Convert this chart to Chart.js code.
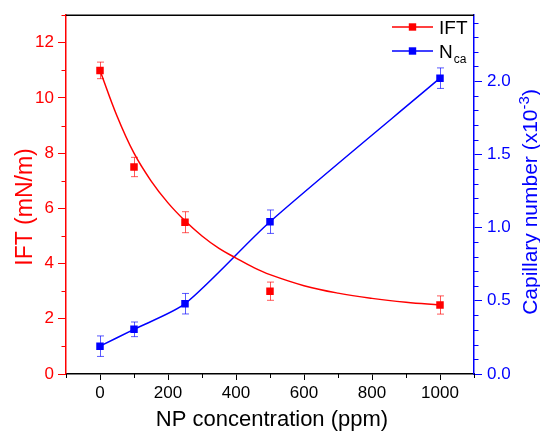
<!DOCTYPE html>
<html><head><meta charset="utf-8">
<script src="https://cdn.jsdelivr.net/npm/chart.js@4/dist/chart.umd.min.js"></script>
<style>html,body{margin:0;padding:0;background:#fff}#wrap{width:540px;height:431px;position:relative}</style>
</head><body><div id="wrap"><canvas id="c"></canvas></div>
<script>
// ---- data ----
const concentrations = [0, 100, 250, 500, 1000];
const iftValues = [11.0, 7.5, 5.5, 3.0, 2.5];
const iftErrors = [0.3, 0.35, 0.38, 0.33, 0.33];
const ncaValues = [0.19, 0.305, 0.48, 1.04, 2.02];
const ncaErrors = [0.07, 0.05, 0.07, 0.08, 0.07];
const iftFitX = [0, 50, 100, 150, 200, 250, 300, 350, 400, 450, 500, 600, 700, 800, 900, 1000];
const iftFitY = [11.0, 9.35, 8.0, 7.0, 6.2, 5.55, 5.0, 4.55, 4.2, 3.87, 3.6, 3.2, 2.93, 2.74, 2.6, 2.5];
const xTicks = [0, 200, 400, 600, 800, 1000];
const iftTicks = [0, 2, 4, 6, 8, 10, 12];
const ncaTicks = [0, 0.5, 1.0, 1.5, 2.0];
const xTitle = 'NP concentration (ppm)';
const leftTitle = 'IFT (mN/m)';
const rightTitleMain = 'Capillary number (x10';
const rightTitleSup = '-3';
const legendLabels = ['IFT', 'N', 'ca'];

const RED = '#ff0000', BLUE = '#0000ff';
const FONT = "'Liberation Sans', Arial, sans-serif";
Chart.defaults.font.family = FONT;

const pts = (xs, ys) => xs.map((x, i) => ({x: x, y: ys[i]}));

const errorBars = {
  id: 'errorBars',
  beforeDatasetsDraw(chart) {
    const ctx = chart.ctx, xs = chart.scales.x;
    const sets = [
      {sc: chart.scales.y, v: iftValues, e: iftErrors, c: 'rgba(255,0,0,0.65)'},
      {sc: chart.scales.y1, v: ncaValues, e: ncaErrors, c: 'rgba(0,0,255,0.65)'}
    ];
    ctx.save();
    ctx.lineWidth = 1;
    sets.forEach(s => {
      ctx.strokeStyle = s.c;
      concentrations.forEach((xv, i) => {
        const px = Math.round(xs.getPixelForValue(xv)) + 0.5;
        const t = s.sc.getPixelForValue(s.v[i] + s.e[i]);
        const b = s.sc.getPixelForValue(s.v[i] - s.e[i]);
        ctx.beginPath();
        ctx.moveTo(px, t); ctx.lineTo(px, b);
        ctx.moveTo(px - 3.5, t); ctx.lineTo(px + 3.5, t);
        ctx.moveTo(px - 3.5, b); ctx.lineTo(px + 3.5, b);
        ctx.stroke();
      });
    });
    ctx.restore();
  }
};

const decor = {
  id: 'decor',
  afterDraw(chart) {
    const ctx = chart.ctx, a = chart.chartArea;
    const xs = chart.scales.x, yl = chart.scales.y, yr = chart.scales.y1;
    ctx.save();
    // top frame line
    ctx.strokeStyle = '#000'; ctx.lineWidth = 1.5;
    ctx.beginPath(); ctx.moveTo(a.left, a.top); ctx.lineTo(a.right, a.top); ctx.stroke();
    // minor ticks
    ctx.lineWidth = 1;
    ctx.strokeStyle = '#000';
    for (let v = -100; v <= 1100; v += 200) {
      const px = Math.round(xs.getPixelForValue(v)) + 0.5;
      ctx.beginPath(); ctx.moveTo(px, a.bottom); ctx.lineTo(px, a.bottom + 4); ctx.stroke();
    }
    ctx.strokeStyle = RED;
    for (let v = 1; v <= 13; v += 2) {
      const py = Math.round(yl.getPixelForValue(v)) + 0.5;
      ctx.beginPath(); ctx.moveTo(a.left, py); ctx.lineTo(a.left - 4.5, py); ctx.stroke();
    }
    ctx.strokeStyle = BLUE;
    for (let k = 1; k <= 24; k++) {
      if (k % 5 === 0) continue;
      const py = Math.round(yr.getPixelForValue(k / 10)) + 0.5;
      ctx.beginPath(); ctx.moveTo(a.right, py); ctx.lineTo(a.right + 4.5, py); ctx.stroke();
    }
    // axis titles
    ctx.fillStyle = '#000';
    ctx.font = '22px ' + FONT;
    ctx.textAlign = 'center'; ctx.textBaseline = 'alphabetic';
    ctx.fillText(xTitle, 272, 426);
    ctx.save();
    ctx.translate(32, 207); ctx.rotate(-Math.PI / 2);
    ctx.fillStyle = RED;
    ctx.font = '23px ' + FONT;
    ctx.fillText(leftTitle, 0, 0);
    ctx.restore();
    ctx.save();
    ctx.translate(537, 202); ctx.rotate(-Math.PI / 2);
    ctx.fillStyle = BLUE;
    ctx.font = '21px ' + FONT;
    const w1 = ctx.measureText(rightTitleMain).width;
    ctx.font = '15px ' + FONT;
    const w2 = ctx.measureText(rightTitleSup).width;
    ctx.font = '21px ' + FONT;
    const w3 = ctx.measureText(')').width;
    let x0 = -(w1 + w2 + w3) / 2;
    ctx.textAlign = 'left';
    ctx.fillText(rightTitleMain, x0, 0);
    ctx.font = '15px ' + FONT;
    ctx.fillText(rightTitleSup, x0 + w1, -8);
    ctx.font = '21px ' + FONT;
    ctx.fillText(')', x0 + w1 + w2, 0);
    ctx.restore();
    // legend
    const items = [{c: RED, y: 27, t: legendLabels[0]}, {c: BLUE, y: 51, t: legendLabels[1]}];
    items.forEach((it, i) => {
      ctx.strokeStyle = it.c; ctx.fillStyle = it.c; ctx.lineWidth = 1.5;
      ctx.beginPath(); ctx.moveTo(392, it.y); ctx.lineTo(433, it.y); ctx.stroke();
      ctx.fillRect(412.5 - 3.7, it.y - 3.7, 7.4, 7.4);
      ctx.fillStyle = '#000';
      ctx.font = '19px ' + FONT; ctx.textAlign = 'left'; ctx.textBaseline = 'alphabetic';
      ctx.fillText(it.t, 439, it.y + 7);
      if (i === 1) {
        const wn = ctx.measureText(it.t).width;
        ctx.font = '12px ' + FONT;
        ctx.fillText(legendLabels[2], 439 + wn + 1, it.y + 12);
      }
    });
    ctx.restore();
  }
};

new Chart(document.getElementById('c'), {
  type: 'scatter',
  data: {
    datasets: [
      {data: pts(iftFitX, iftFitY), showLine: true, borderColor: RED, borderWidth: 1.5,
       pointRadius: 0, tension: 0.4, yAxisID: 'y'},
      {data: pts(concentrations, iftValues), showLine: false, pointStyle: 'rect', pointRadius: 5.3,
       backgroundColor: RED, borderColor: RED, borderWidth: 0, yAxisID: 'y'},
      {data: pts(concentrations, ncaValues), showLine: true, tension: 0.25, borderColor: BLUE, borderWidth: 1.5,
       pointStyle: 'rect', pointRadius: 5.3, backgroundColor: BLUE, pointBorderWidth: 0, yAxisID: 'y1'}
    ]
  },
  options: {
    responsive: true, maintainAspectRatio: false, animation: false, devicePixelRatio: 1,
    layout: {padding: {top: 13, left: 0, right: 0, bottom: 0}},
    plugins: {legend: {display: false}, tooltip: {enabled: false}},
    scales: {
      x: {
        type: 'linear', min: -100, max: 1100,
        afterBuildTicks: s => { s.ticks = xTicks.map(v => ({value: v})); },
        afterFit: s => { s.height = 57; },
        ticks: {color: '#000', font: {size: 17}, padding: 3, maxRotation: 0, callback: v => String(v)},
        grid: {display: true, drawOnChartArea: false, drawTicks: true, tickLength: 6, color: '#000', lineWidth: 1},
        border: {display: true, color: '#000', width: 1.5}
      },
      y: {
        position: 'left', min: 0, max: 13,
        afterBuildTicks: s => { s.ticks = iftTicks.map(v => ({value: v})); },
        afterFit: s => { s.width = 66; },
        ticks: {color: RED, font: {size: 17}, padding: 4, callback: v => String(v)},
        grid: {display: true, drawOnChartArea: false, drawTicks: true, tickLength: 8, color: RED, lineWidth: 1},
        border: {display: true, color: RED, width: 1.5}
      },
      y1: {
        position: 'right', min: 0, max: 2.45,
        afterBuildTicks: s => { s.ticks = ncaTicks.map(v => ({value: v})); },
        afterFit: s => { s.width = 66; },
        ticks: {color: BLUE, font: {size: 17}, padding: 5, callback: v => Number(v).toFixed(1)},
        grid: {display: true, drawOnChartArea: false, drawTicks: true, tickLength: 8, color: BLUE, lineWidth: 1},
        border: {display: true, color: BLUE, width: 1.5}
      }
    }
  },
  plugins: [errorBars, decor]
});
</script>
</body></html>
